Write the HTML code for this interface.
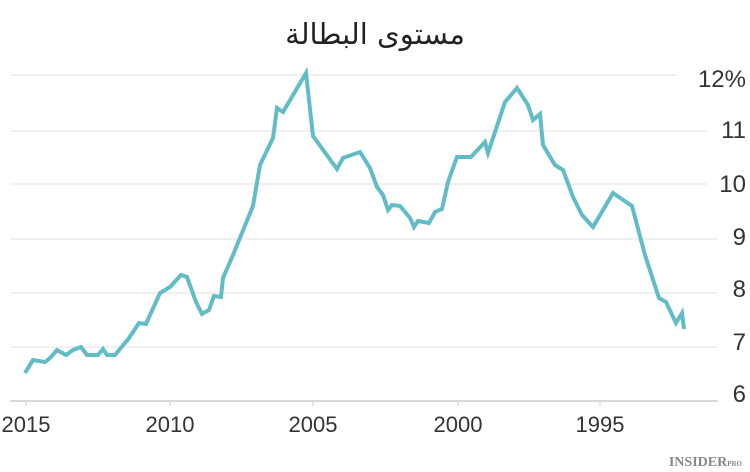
<!DOCTYPE html>
<html><head><meta charset="utf-8"><style>
html,body{margin:0;padding:0;background:#fff;width:750px;height:472px;overflow:hidden}
</style></head><body>
<svg width="750" height="472" viewBox="0 0 750 472" xmlns="http://www.w3.org/2000/svg">
<text x="375" y="44" text-anchor="middle" font-family="'DejaVu Sans','Noto Sans CJK SC',sans-serif" font-size="29" fill="#222" direction="rtl">مستوى البطالة</text>
<g stroke="#e6e6e6" stroke-width="1.2">
<line x1="10" y1="75" x2="677" y2="75"/>
<line x1="10" y1="131" x2="707" y2="131"/>
<line x1="10" y1="184" x2="707" y2="184"/>
<line x1="10" y1="239" x2="718" y2="239"/>
<line x1="10" y1="293" x2="718" y2="293"/>
<line x1="10" y1="347" x2="718" y2="347"/>
</g>
<line x1="10" y1="401" x2="718" y2="401" stroke="#ccc" stroke-width="1.5"/>
<g stroke="#ccc" stroke-width="1"><line x1="26" y1="401" x2="26" y2="406"/><line x1="170" y1="401" x2="170" y2="406"/><line x1="313" y1="401" x2="313" y2="406"/><line x1="458" y1="401" x2="458" y2="406"/><line x1="600" y1="401" x2="600" y2="406"/></g>
<g font-family="'Liberation Sans',sans-serif" font-size="22" fill="#333" text-anchor="middle">
<text x="26" y="432">2015</text><text x="170" y="432">2010</text><text x="313" y="432">2005</text><text x="458" y="432">2000</text><text x="600" y="432">1995</text>
</g>
<g font-family="'Liberation Sans',sans-serif" font-size="24" fill="#333" text-anchor="end">
<text x="746" y="87">12%</text><text x="746" y="138">11</text><text x="746" y="192">10</text><text x="746" y="245">9</text><text x="746" y="297">8</text><text x="746" y="350">7</text><text x="746" y="402">6</text>
</g>
<polyline fill="none" stroke="#62bcc6" stroke-width="4" stroke-linejoin="miter" points="25,373 33,360 45,362 50,358 57,350 66,355 73,350 81,347 87,355 98,355 103,349 107,355 115,355 129,338 139,323 146,324 160,293 170,287 181,275 187,277 196,302 202,314 209,310 214,296 221,297 223,278 233,255 253,206 260,165 273,138 277,108 283,112 306,73 313,136 337,169 343,158 360,152 370,168 377,187 383,195 388,210 392,205 400,206 410,218 414,227 418,221 429,223 435,212 442,209 448,182 457,157 471,157 485,142 488,153 505,102 517,88 528,105 533,120 540,114 543,145 555,165 563,170 573,197 582,215 593,227 613,193 632,206 645,255 659,298 666,302 676,323 682,313 684,329"/>
<text x="742" y="466" text-anchor="end" font-family="'Liberation Serif',serif" font-weight="bold" font-size="14" fill="#888">INSIDER<tspan font-size="7">PRO</tspan></text>
</svg>
</body></html>
